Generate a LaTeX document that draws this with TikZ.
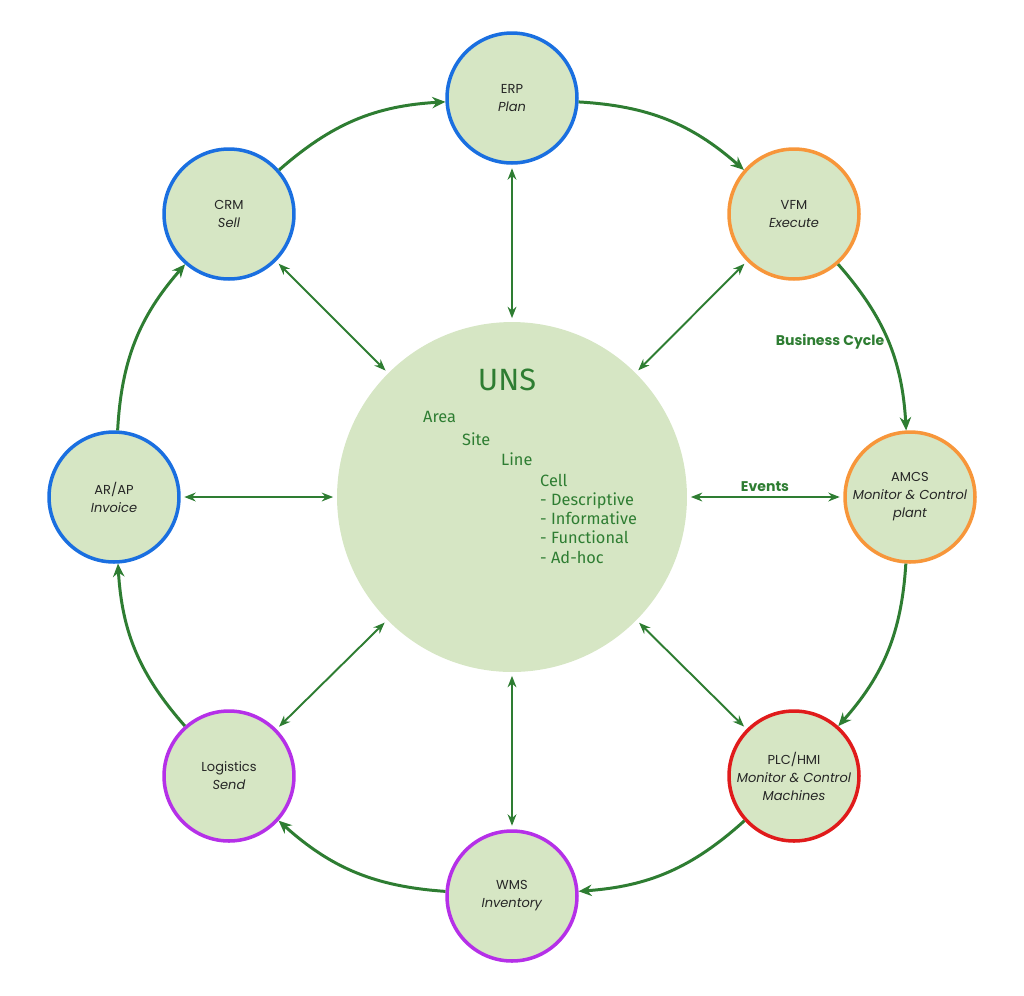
\documentclass[tikz,border=0pt]{standalone}
\usepackage{fontspec}
\setmainfont{Poppins}
\newfontfamily\unsfont{Fira Sans}
\usetikzlibrary{arrows.meta,positioning,calc}

\definecolor{nodefill}{HTML}{D6E6C4}
\definecolor{arrgreen}{HTML}{2E7D32}
\definecolor{ringblue}{HTML}{1A6FE0}
\definecolor{ringorange}{HTML}{F7963A}
\definecolor{ringpurple}{HTML}{B530E8}
\definecolor{ringred}{HTML}{E01B1B}

\begin{document}
\begin{tikzpicture}[x=0.02cm, y=-0.02cm,
  >=Stealth, font=\fontsize{7.4}{10.2}\selectfont,
  app/.style={circle, draw, line width=2pt, fill=nodefill, minimum size=2.6cm,
              inner sep=0pt, align=center, text=black!85},
  ring/.style={-{Stealth[length=7.5pt,width=6.5pt]}, line width=1.7pt, draw=arrgreen},
  spoke/.style={{Stealth[length=6.5pt,width=5pt]}-{Stealth[length=6.5pt,width=5pt]},
                line width=1.1pt, draw=arrgreen},
  uns/.style={font=\unsfont\fontsize{9.3}{10.9}\selectfont, text=arrgreen, anchor=west},
]
\useasboundingbox (0,0) rectangle (1024,995);

% Hub
\node[circle, fill=nodefill, minimum size=7cm, inner sep=0pt] (hub) at (512,497) {};

% Applications
\node[app, draw=ringblue]   (erp)  at (512, 98) {ERP\\\textit{Plan}};
\node[app, draw=ringorange] (vfm)  at (794,214) {VFM\\\textit{Execute}};
\node[app, draw=ringorange] (amcs) at (910,497) {AMCS\\\textit{Monitor \& Control}\\\textit{plant}};
\node[app, draw=ringred]    (plc)  at (794,776) {PLC/HMI\\\textit{Monitor \& Control}\\\textit{Machines}};
\node[app, draw=ringpurple] (wms)  at (512,896) {WMS\\\textit{Inventory}};
\node[app, draw=ringpurple] (log)  at (229,776) {Logistics\\\textit{Send}};
\node[app, draw=ringblue]   (arap) at (114,497) {AR/AP\\\textit{Invoice}};
\node[app, draw=ringblue]   (crm)  at (229,214) {CRM\\\textit{Sell}};

% UNS hierarchy
\node[font=\unsfont\fontsize{17.5}{20}\selectfont, text=arrgreen] (title) at (507,380) {UNS};
\node[uns] (area) at (417,417) {Area};
\node[uns] (site) at (456,439) {Site};
\node[uns] (line) at (495,459) {Line};
\node[uns, align=left, anchor=north west] (cell) at (534,468)
  {Cell\\- Descriptive\\- Informative\\- Functional\\- Ad-hoc};

% Business cycle
\draw[ring] (erp)  to[bend left=19] (vfm);
\draw[ring] (vfm)  to[bend left=19] (amcs);
\draw[ring] (amcs) to[bend left=19] (plc);
\draw[ring] (plc)  to[bend left=19] (wms);
\draw[ring] (wms)  to[bend left=19] (log);
\draw[ring] (log)  to[bend left=19] (arap);
\draw[ring] (arap) to[bend left=19] (crm);
\draw[ring] (crm)  to[bend left=19] (erp);

% Spokes to the hub
\foreach \app in {erp,vfm,amcs,plc,wms,log,arap,crm}
  \draw[spoke, shorten <=2pt, shorten >=2pt] (\app) -- (hub);

% Labels
\node[font=\bfseries\fontsize{8}{10}\selectfont, text=arrgreen] (cycle) at (830,342) {Business Cycle};
\node[font=\bfseries\fontsize{8}{10}\selectfont, text=arrgreen] (events) at (765,487) {Events};

\end{tikzpicture}
\end{document}
